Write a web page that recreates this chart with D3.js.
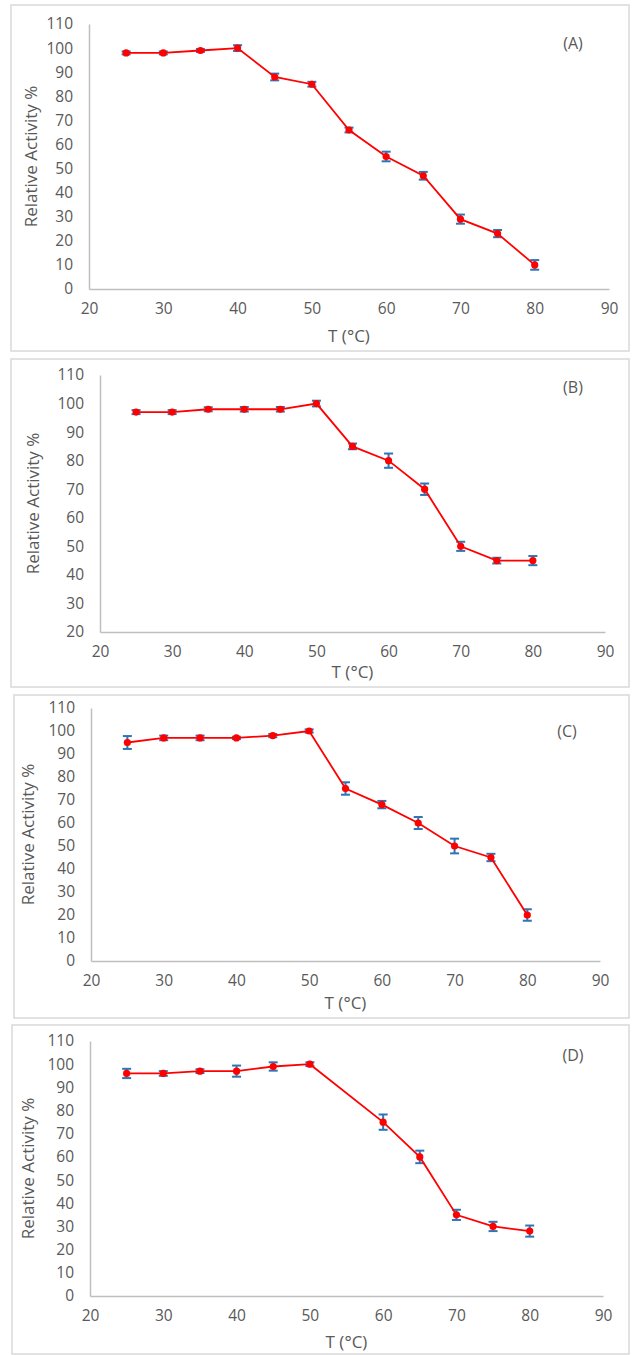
<!DOCTYPE html>
<html>
<head>
<meta charset="utf-8">
<script src="https://cdn.jsdelivr.net/npm/d3@7"></script>
<style>
    body { margin: 0; background: #fff; }
    svg { display: block; }
    text { font-family: "Open Sans", "Liberation Sans", sans-serif; fill: #595959; }
</style>
</head>
<body>
<div id="container"></div>
<script>
// 数据：温度 (°C) 与相对活性 (%)，误差为 ±
const temps = [25, 30, 35, 40, 45, 50, 55, 60, 65, 70, 75, 80];
const tempsD = [25, 30, 35, 40, 45, 50, 60, 65, 70, 75, 80];

const activityA = [98, 98, 99, 100, 88, 85, 66, 55, 47, 29, 23, 10];
const errorA = [0.6, 0.6, 0.6, 1.2, 1.4, 1, 1, 2, 1.6, 1.9, 1.5, 2];

const activityB = [97, 97, 98, 98, 98, 100, 85, 80, 70, 50, 45, 45];
const errorB = [0.7, 0.7, 0.7, 0.8, 0.8, 1, 1, 2.5, 2, 1.6, 1, 1.6];

const activityC = [95, 97, 97, 97, 98, 100, 75, 68, 60, 50, 45, 20];
const errorC = [2.8, 1, 1, 0.5, 0.7, 0.7, 2.7, 1.6, 2.6, 3.2, 1.6, 2.5];

const activityD = [96, 96, 97, 97, 99, 100, 75, 60, 35, 30, 28];
const errorD = [2, 1, 0.8, 2.4, 1.8, 0.8, 3.3, 2.7, 2.2, 2, 2.4];

const xTicks = [20, 30, 40, 50, 60, 70, 80, 90];
const yTicksFull = [0, 10, 20, 30, 40, 50, 60, 70, 80, 90, 100, 110];
const yTicksB = [20, 30, 40, 50, 60, 70, 80, 90, 100, 110];

const panelLabels = ['(A)', '(B)', '(C)', '(D)'];

const W = 632;
const H = 1355;

// 各子图布局
const panels = [
    {
        label: panelLabels[0], x: temps, y: activityA, err: errorA, yDomain: [0, 110], yTicks: yTicksFull,
        frame: [11, 5, 618, 346], left: 89, right: 609, top: 24, bottom: 289,
        titleGap: 48, yTitleX: 32, tag: [573, 45]
    },
    {
        label: panelLabels[1], x: temps, y: activityB, err: errorB, yDomain: [20, 110], yTicks: yTicksB,
        frame: [11, 359, 618, 328], left: 100, right: 605, top: 375, bottom: 632,
        titleGap: 41, yTitleX: 34, tag: [573, 389]
    },
    {
        label: panelLabels[2], x: temps, y: activityC, err: errorC, yDomain: [0, 110], yTicks: yTicksFull,
        frame: [14, 695, 615, 323], left: 91, right: 600, top: 708, bottom: 961,
        titleGap: 43, yTitleX: 29, tag: [567, 733]
    },
    {
        label: panelLabels[3], x: tempsD, y: activityD, err: errorD, yDomain: [0, 110], yTicks: yTicksFull,
        frame: [12, 1025, 617, 329], left: 90, right: 603, top: 1041, bottom: 1296,
        titleGap: 47, yTitleX: 29, tag: [573, 1057]
    }
];

const svg = d3.select('#container')
    .append('svg')
    .attr('width', W)
    .attr('height', H);

function drawPanel(p) {
    const g = svg.append('g');
    const [fx, fy, fw, fh] = p.frame;

    // 外框
    g.append('rect')
        .attr('x', fx).attr('y', fy)
        .attr('width', fw).attr('height', fh)
        .attr('fill', '#fff')
        .attr('stroke', '#d9d9d9')
        .attr('stroke-width', 1.5);

    const xScale = d3.scaleLinear().domain([20, 90]).range([p.left, p.right]);
    const yScale = d3.scaleLinear().domain(p.yDomain).range([p.bottom, p.top]);

    const xAxis = d3.axisBottom(xScale)
        .tickValues(xTicks)
        .tickSize(0)
        .tickPadding(14);
    const yAxis = d3.axisLeft(yScale)
        .tickValues(p.yTicks)
        .tickSize(0)
        .tickPadding(16);

    const xg = g.append('g')
        .attr('transform', `translate(0,${p.bottom})`)
        .call(xAxis);
    const yg = g.append('g')
        .attr('transform', `translate(${p.left},0)`)
        .call(yAxis);

    [xg, yg].forEach(a => {
        a.select('.domain').attr('stroke', '#bfbfbf').attr('stroke-width', 1.5);
        a.selectAll('text')
            .attr('fill', '#595959')
            .style('font-size', '15.5px')
            .style('font-family', '"Open Sans", "Liberation Sans", sans-serif');
    });

    // 轴标题
    g.append('text')
        .attr('x', (p.left + p.right) / 2)
        .attr('y', p.bottom + p.titleGap)
        .attr('text-anchor', 'middle')
        .attr('dominant-baseline', 'middle')
        .style('font-size', '17px')
        .text('T (°C)');

    g.append('text')
        .attr('transform', `translate(${p.yTitleX},${(p.top + p.bottom) / 2}) rotate(-90)`)
        .attr('text-anchor', 'middle')
        .attr('dominant-baseline', 'middle')
        .style('font-size', '17px')
        .text('Relative Activity %');

    // 子图标记
    g.append('text')
        .attr('x', p.tag[0])
        .attr('y', p.tag[1])
        .attr('text-anchor', 'middle')
        .attr('dominant-baseline', 'middle')
        .style('font-size', '16px')
        .text(p.label);

    const data = p.x.map((t, i) => ({t: t, v: p.y[i], e: p.err[i]}));

    // 误差棒
    const eb = g.append('g')
        .attr('stroke', '#2e75b6')
        .attr('stroke-width', 2);
    const cap = 4.5;
    eb.selectAll('.stem').data(data).enter()
        .append('line')
        .attr('x1', d => xScale(d.t)).attr('x2', d => xScale(d.t))
        .attr('y1', d => yScale(d.v - d.e)).attr('y2', d => yScale(d.v + d.e));
    eb.selectAll('.capTop').data(data).enter()
        .append('line')
        .attr('x1', d => xScale(d.t) - cap).attr('x2', d => xScale(d.t) + cap)
        .attr('y1', d => yScale(d.v + d.e)).attr('y2', d => yScale(d.v + d.e));
    eb.selectAll('.capBottom').data(data).enter()
        .append('line')
        .attr('x1', d => xScale(d.t) - cap).attr('x2', d => xScale(d.t) + cap)
        .attr('y1', d => yScale(d.v - d.e)).attr('y2', d => yScale(d.v - d.e));

    // 折线
    const line = d3.line()
        .x(d => xScale(d.t))
        .y(d => yScale(d.v));
    g.append('path')
        .datum(data)
        .attr('d', line)
        .attr('fill', 'none')
        .attr('stroke', '#ff0000')
        .attr('stroke-width', 1.8);

    g.selectAll('.dot').data(data).enter()
        .append('circle')
        .attr('cx', d => xScale(d.t))
        .attr('cy', d => yScale(d.v))
        .attr('r', 3.6)
        .attr('fill', '#ff0000');
}

panels.forEach(drawPanel);
</script>
</body>
</html>
